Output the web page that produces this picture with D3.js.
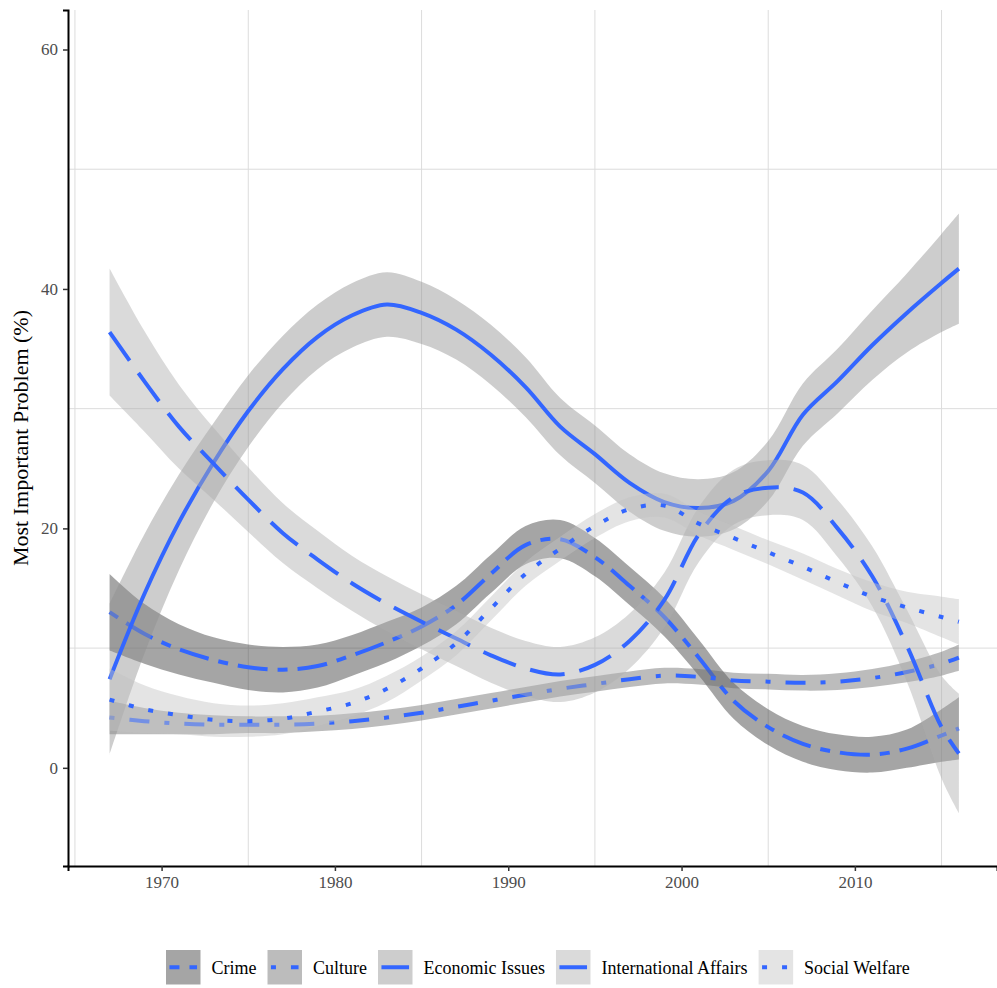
<!DOCTYPE html>
<html>
<head>
<meta charset="utf-8">
<script src="https://cdn.jsdelivr.net/npm/d3@7"></script>
<style>
  body { margin: 0; background: #fff; }
  svg { display: block; font-family: "Liberation Serif", "Times New Roman", serif; }
</style>
</head>
<body>
<div id="chart"></div>
<script>
// Smoothed trends (loess fit + standard error band)
const years = [1967, 1969, 1971, 1973, 1975, 1977, 1979, 1981, 1983, 1985, 1987, 1989, 1991,
               1993, 1995, 1997, 1999, 2001, 2003, 2005, 2007, 2009, 2011, 2013, 2015, 2016];

const crimeFit = [13.0, 11.2, 9.9, 9.0, 8.4, 8.2, 8.5, 9.4, 10.5, 11.8, 13.6, 16.2, 18.6,
                  19.1, 17.6, 15.2, 12.6, 9.2, 5.6, 3.4, 2.0, 1.3, 1.1, 1.6, 2.7, 3.3];
const crimeSe = [3.2, 2.5, 2.1, 1.9, 1.9, 1.9, 1.8, 1.7, 1.7, 1.6, 1.6, 1.6, 1.6,
                 1.6, 1.6, 1.6, 1.6, 1.5, 1.5, 1.5, 1.5, 1.5, 1.5, 1.6, 2.2, 2.6];

const cultureFit = [4.2, 3.9, 3.7, 3.6, 3.6, 3.6, 3.7, 3.9, 4.2, 4.6, 5.1, 5.6, 6.1,
                    6.6, 7.0, 7.4, 7.7, 7.6, 7.3, 7.2, 7.1, 7.2, 7.5, 8.0, 8.7, 9.2];
const cultureSe = [1.4, 1.1, 0.9, 0.8, 0.7, 0.7, 0.65, 0.65, 0.65, 0.65, 0.65, 0.65, 0.65,
                   0.65, 0.65, 0.65, 0.65, 0.65, 0.65, 0.65, 0.65, 0.7, 0.75, 0.85, 1.0, 1.1];

const economicFit = [7.4, 14.5, 20.5, 25.5, 29.8, 33.3, 36.0, 37.8, 38.7, 38.0, 36.6, 34.5, 31.8,
                     28.5, 26.2, 23.8, 22.2, 21.7, 22.3, 24.8, 29.5, 32.3, 35.3, 38.0, 40.5, 41.7];
const economicSe = [6.3, 5.0, 4.0, 3.3, 3.0, 2.8, 2.7, 2.7, 2.7, 2.6, 2.5, 2.5, 2.5,
                    2.4, 2.4, 2.4, 2.4, 2.4, 2.4, 2.5, 2.6, 2.7, 2.9, 3.3, 4.1, 4.6];

const internationalFit = [36.4, 32.3, 28.5, 25.4, 22.4, 19.6, 17.4, 15.4, 13.7, 12.2, 10.8, 9.4, 8.3,
                          7.8, 8.6, 10.6, 14.0, 19.5, 22.6, 23.4, 23.0, 20.0, 16.0, 10.2, 3.4, 1.2];
const internationalSe = [5.3, 4.2, 3.5, 3.0, 2.7, 2.5, 2.4, 2.3, 2.3, 2.3, 2.3, 2.3, 2.3,
                         2.3, 2.3, 2.3, 2.3, 2.3, 2.3, 2.3, 2.3, 2.4, 2.5, 3.0, 4.3, 5.0];

const welfareFit = [5.7, 4.9, 4.4, 4.0, 3.9, 4.1, 4.7, 5.4, 6.6, 8.3, 10.4, 13.3, 16.2,
                    18.3, 20.2, 21.6, 21.9, 20.4, 19.2, 18.0, 16.8, 15.5, 14.3, 13.4, 12.6, 12.2];
const welfareSe = [2.6, 2.0, 1.6, 1.4, 1.3, 1.3, 1.2, 1.1, 1.1, 1.0, 1.0, 1.0, 1.0,
                   1.0, 1.0, 1.0, 1.0, 1.0, 1.0, 1.0, 1.1, 1.1, 1.2, 1.3, 1.7, 1.9];

const categories = ['Crime', 'Culture', 'Economic Issues', 'International Affairs', 'Social Welfare'];
const xTicks = [1970, 1980, 1990, 2000, 2010];
const xGrid = [1965, 1975, 1985, 1995, 2005, 2015];
const yTicks = [0, 20, 40, 60];
const yGrid = [10, 30, 50];

const seriesFits = [crimeFit, cultureFit, economicFit, internationalFit, welfareFit];
const seriesSes = [crimeSe, cultureSe, economicSe, internationalSe, welfareSe];

// styling per category
const fills = ['#373737', '#6a6a6a', '#909090', '#adadad', '#c3c3c3'];
const dashes = ['10,10,30,10', '5,15,20,15', null, '35,15', '5,15'];
const lineColor = '#3366FF';

const series = categories.map((name, i) => ({
    name,
    fill: fills[i],
    dash: dashes[i],
    values: years.map((yr, j) => ({ year: yr, fit: seriesFits[i][j], se: seriesSes[i][j] }))
}));

const W = 997, H = 988;
const margin = { top: 10, right: 0, bottom: 122, left: 68 };
const pw = W - margin.left - margin.right;
const ph = H - margin.top - margin.bottom;

const svg = d3.select('#chart').append('svg')
    .attr('width', W)
    .attr('height', H);

const x = d3.scaleLinear().domain([1964.6, 2018.2]).range([0, pw]);
const y = d3.scaleLinear().domain([-8.2, 63.3]).range([ph, 0]);

const g = svg.append('g').attr('transform', `translate(${margin.left},${margin.top})`);

g.append('clipPath').attr('id', 'panel')
    .append('rect').attr('width', pw).attr('height', ph);

// minor grid only
g.append('g').selectAll('line.vg')
    .data(xGrid).join('line')
    .attr('x1', d => x(d)).attr('x2', d => x(d))
    .attr('y1', 0).attr('y2', ph)
    .attr('stroke', '#dcdcdc').attr('stroke-width', 1);

g.append('g').selectAll('line.hg')
    .data(yGrid).join('line')
    .attr('x1', 0).attr('x2', pw)
    .attr('y1', d => y(d)).attr('y2', d => y(d))
    .attr('stroke', '#dcdcdc').attr('stroke-width', 1);

const area = d3.area()
    .x(d => x(d.year))
    .y0(d => y(d.fit - d.se))
    .y1(d => y(d.fit + d.se))
    .curve(d3.curveCatmullRom);

const line = d3.line()
    .x(d => x(d.year))
    .y(d => y(d.fit))
    .curve(d3.curveCatmullRom);

const plot = g.append('g').attr('clip-path', 'url(#panel)');

// ribbon then line for each group, like geom_smooth
series.forEach(s => {
    plot.append('path')
        .datum(s.values)
        .attr('d', area)
        .attr('fill', s.fill)
        .attr('fill-opacity', 0.45);

    plot.append('path')
        .datum(s.values)
        .attr('d', line)
        .attr('fill', 'none')
        .attr('stroke', lineColor)
        .attr('stroke-width', 4)
        .attr('stroke-dasharray', s.dash);
});

// axes
const xAxis = g.append('g')
    .attr('transform', `translate(0,${ph})`)
    .call(d3.axisBottom(x).tickValues(xTicks).tickFormat(d3.format('d')).tickSize(5).tickPadding(5));

const yAxis = g.append('g')
    .call(d3.axisLeft(y).tickValues(yTicks).tickSize(5).tickPadding(5));

[xAxis, yAxis].forEach(a => {
    a.select('.domain').attr('stroke', '#000').attr('stroke-width', 2);
    a.selectAll('.tick line').attr('stroke', '#333').attr('stroke-width', 1.5);
    a.selectAll('.tick text')
        .attr('fill', '#4d4d4d')
        .style('font-family', '"Liberation Serif", serif')
        .style('font-size', '17px');
});

svg.append('text')
    .attr('transform', `translate(28,${margin.top + ph / 2}) rotate(-90)`)
    .attr('text-anchor', 'middle')
    .style('font-size', '22px')
    .attr('fill', '#000')
    .text('Most Important Problem (%)');

// legend
const legend = svg.append('g').attr('transform', 'translate(166,950)');
const keySize = 34.5;
let cursor = 0;
series.forEach(s => {
    const item = legend.append('g').attr('transform', `translate(${cursor},0)`);
    item.append('rect')
        .attr('width', keySize).attr('height', keySize)
        .attr('fill', s.fill).attr('fill-opacity', 0.45);
    item.append('line')
        .attr('x1', keySize * 0.1).attr('x2', keySize * 0.9)
        .attr('y1', keySize / 2).attr('y2', keySize / 2)
        .attr('stroke', lineColor).attr('stroke-width', 4)
        .attr('stroke-dasharray', s.dash);
    const label = item.append('text')
        .attr('x', keySize + 11)
        .attr('y', keySize / 2)
        .attr('dy', '0.35em')
        .style('font-size', '18px')
        .attr('fill', '#000')
        .text(s.name);
    cursor += keySize + 11 + label.node().getComputedTextLength() + 11;
});
</script>
</body>
</html>
